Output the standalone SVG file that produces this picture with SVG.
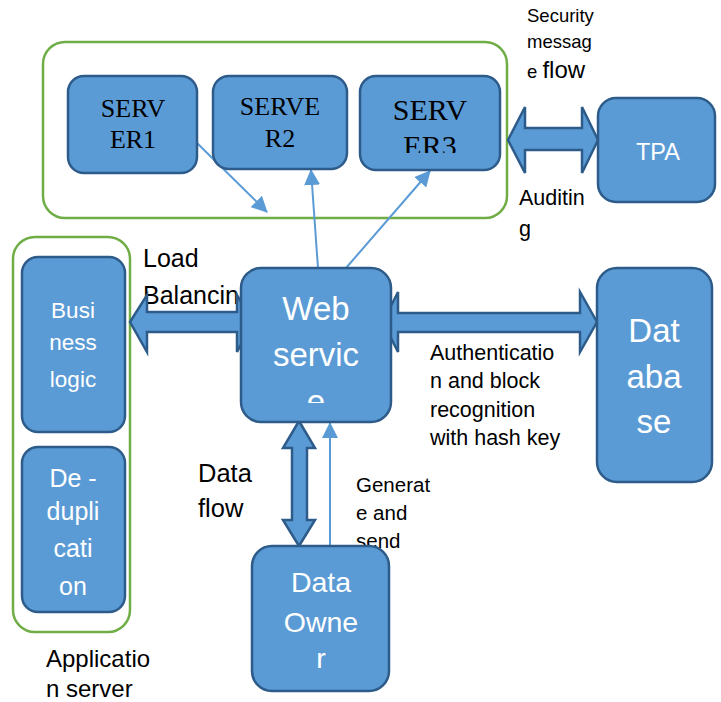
<svg xmlns="http://www.w3.org/2000/svg" width="721" height="702" viewBox="0 0 721 702">
<style>
.box{fill:#5B9BD5;stroke:#2E5C8A;stroke-width:2.5}
.grp{fill:none;stroke:#70AD47;stroke-width:2.5}
.dbl{fill:#5B9BD5;stroke:#2E5C8A;stroke-width:2.5;stroke-linejoin:miter}
.thin{stroke:#5B9BD5;stroke-width:2;fill:none}
.w{fill:#fff;font-family:"Liberation Sans",Arial,sans-serif;text-anchor:middle}
.s{fill:#000;font-family:"Liberation Serif","Times New Roman",serif;text-anchor:middle}
.k{fill:#000;font-family:"Liberation Sans",Arial,sans-serif}
</style>
<defs>
<marker id="ah2" markerWidth="16" markerHeight="16" refX="15" refY="8" orient="auto" markerUnits="userSpaceOnUse" viewBox="0 0 16 16">
<path d="M0,0 L16,8 L0,16 z" fill="#5B9BD5"/>
</marker>
<clipPath id="c3"><rect x="360" y="76" width="140" height="77"/></clipPath>
<clipPath id="cw"><rect x="241" y="268" width="150" height="135"/></clipPath>
</defs>

<rect class="grp" x="43" y="42" width="464" height="176" rx="22"/>
<rect class="grp" x="13" y="237" width="117" height="395" rx="22"/>

<g id="labels">
<text class="k" x="527" y="22" font-size="18.5">Security</text>
<text class="k" x="527" y="48" font-size="18.5">messag</text>
<text class="k" x="527" y="78"><tspan font-size="18.5">e </tspan><tspan font-size="24">flow</tspan></text>
<text class="k" x="519" y="205" font-size="21.5">Auditin</text>
<text class="k" x="519" y="236" font-size="21.5">g</text>
<text class="k" x="143" y="267" font-size="25">Load</text>
<text class="k" x="143" y="304" font-size="25">Balancin</text>
<text class="k" x="430" y="360" font-size="21.5">Authenticatio</text>
<text class="k" x="430" y="388" font-size="21.5">n and block</text>
<text class="k" x="430" y="417" font-size="21.5">recognition</text>
<text class="k" x="430" y="445" font-size="21.5">with hash key</text>
<text class="k" x="198" y="482" font-size="25.5">Data</text>
<text class="k" x="198" y="517" font-size="25.5">flow</text>
<text class="k" x="356" y="492" font-size="20.5">Generat</text>
<text class="k" x="356" y="520" font-size="20.5">e and</text>
<text class="k" x="356" y="548" font-size="20.5">send</text>
<text class="k" x="46" y="667" font-size="24">Applicatio</text>
<text class="k" x="46" y="697" font-size="24">n server</text>
</g>

<g id="connectors">
<line class="thin" x1="197" y1="143" x2="267" y2="212" marker-end="url(#ah2)"/>
<line class="thin" x1="318" y1="268" x2="311" y2="170" marker-end="url(#ah2)"/>
<line class="thin" x1="346" y1="268" x2="430" y2="171" marker-end="url(#ah2)"/>
<line class="thin" x1="330" y1="546" x2="330" y2="423" marker-end="url(#ah2)"/>
<path class="dbl" d="M508,140 L525,107 L525,128 L582,128 L582,107 L598,140 L582,173 L582,150 L525,150 L525,173 Z"/>
<path class="dbl" d="M130,322 L147,295 L147,312 L237,312 L237,295 L253,322 L237,352 L237,332 L147,332 L147,352 Z"/>
<path class="dbl" d="M383,322 L398,292 L398,313 L580,313 L580,292 L597,322 L580,352 L580,332 L398,332 L398,352 Z"/>
<path class="dbl" d="M299,421 L315,448 L307,448 L307,520 L315,520 L299,546 L283,520 L292,520 L292,448 L283,448 Z"/>
</g>

<g id="server1">
<rect class="box" x="68" y="76" width="129" height="97" rx="16"/>
<text class="s" x="133" y="117" font-size="26">SERV</text>
<text class="s" x="133" y="148" font-size="26">ER1</text>
</g>
<g id="server2">
<rect class="box" x="213" y="76" width="134" height="93" rx="16"/>
<text class="s" x="280" y="115" font-size="26">SERVE</text>
<text class="s" x="280" y="147" font-size="26">R2</text>
</g>
<g id="server3">
<rect class="box" x="360" y="76" width="140" height="94" rx="16"/>
<g clip-path="url(#c3)">
<text class="s" x="430" y="120" font-size="30">SERV</text>
<text class="s" x="430" y="156" font-size="30">ER3</text>
</g>
</g>
<g id="tpa">
<rect class="box" x="598" y="98" width="117" height="104" rx="18"/>
<text class="w" x="658" y="160" font-size="23.5">TPA</text>
</g>
<g id="business">
<rect class="box" x="22" y="257" width="103" height="175" rx="16"/>
<text class="w" x="73" y="318" font-size="22.5">Busi</text>
<text class="w" x="73" y="350" font-size="22.5">ness</text>
<text class="w" x="73" y="387" font-size="22.5">logic</text>
</g>
<g id="dedup">
<rect class="box" x="22" y="447" width="103" height="165" rx="16"/>
<text class="w" x="73" y="487" font-size="25">De -</text>
<text class="w" x="73" y="520" font-size="25">dupli</text>
<text class="w" x="73" y="557" font-size="25">cati</text>
<text class="w" x="73" y="595" font-size="25">on</text>
</g>
<g id="webservice">
<rect class="box" x="241" y="268" width="150" height="154" rx="20"/>
<g clip-path="url(#cw)">
<text class="w" x="316" y="320" font-size="33">Web</text>
<text class="w" x="316" y="366" font-size="33">servic</text>
<text class="w" x="316" y="413" font-size="33">e</text>
</g>
</g>
<g id="database">
<rect class="box" x="597" y="268" width="115" height="214" rx="20"/>
<text class="w" x="654" y="342" font-size="33">Dat</text>
<text class="w" x="654" y="388" font-size="33">aba</text>
<text class="w" x="654" y="433" font-size="33">se</text>
</g>
<g id="dataowner">
<rect class="box" x="252" y="546" width="137" height="145" rx="20"/>
<text class="w" x="321" y="592" font-size="28.5">Data</text>
<text class="w" x="321" y="632" font-size="28.5">Owne</text>
<text class="w" x="321" y="668" font-size="28.5">r</text>
</g>
</svg>
